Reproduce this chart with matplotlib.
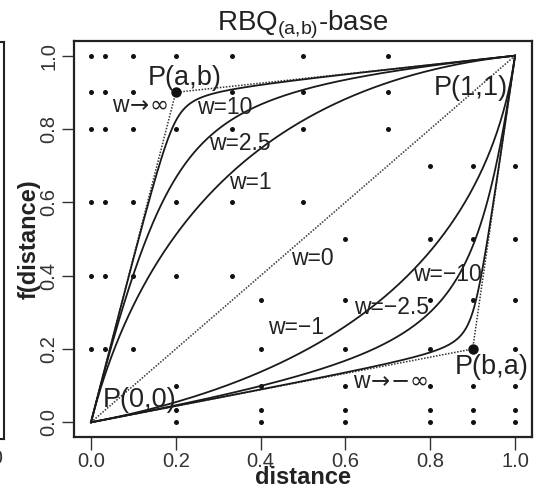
import numpy as np
import matplotlib
matplotlib.use('Agg')
import matplotlib.pyplot as plt

plt.rcParams['font.family'] = ['Liberation Sans', 'DejaVu Sans']
plt.rcParams['mathtext.fontset'] = 'dejavusans'

# control points of the rational quadratic Bezier
p0 = (0.0, 0.0)
p_ab = (0.2, 0.9)
p_ba = (0.9, 0.2)
p2 = (1.0, 1.0)
weights = [10, 2.5, 1, -1, -2.5, -10]

# background dot grid (a < b above the diagonal, mirrored below)
dot_a = [0.0, 1 / 30, 0.1, 0.2, 1 / 3, 0.5, 0.7]
dot_b = [0.2, 0.4, 0.6, 0.8, 0.9, 1.0]

w_labels = [
    ('w$\\!\\rightarrow\\!\\infty$', 0.116, 0.864),
    ('w=10', 0.315, 0.859),
    ('w=2.5', 0.352, 0.76),
    ('w=1', 0.377, 0.655),
    ('w=0', 0.522, 0.448),
    ('w=\u22121', 0.484, 0.258),
    ('w=\u22122.5', 0.708, 0.312),
    ('w=\u221210', 0.84, 0.402),
    ('w$\\!\\rightarrow\\!{-}\\infty$', 0.706, 0.11),
]
p_labels = [
    ('P(a,b)', 0.22, 0.94),
    ('P(1,1)', 0.895, 0.913),
    ('P(0,0)', 0.115, 0.062),
    ('P(b,a)', 0.946, 0.15),
]


def rbq(w, t):
    # negative weights use the mirrored control point
    p1 = p_ab if w >= 0 else p_ba
    w = abs(w)
    b0 = (1 - t) ** 2
    b1 = 2 * w * t * (1 - t)
    b2 = t ** 2
    den = b0 + b1 + b2
    x = (b0 * p0[0] + b1 * p1[0] + b2 * p2[0]) / den
    y = (b0 * p0[1] + b1 * p1[1] + b2 * p2[1]) / den
    return x, y


fig = plt.figure(figsize=(5.41, 4.88), dpi=100)

# cut-off neighbour panel on the left
ax0 = fig.add_axes([-0.5, 1 - 439 / 488, 0.5 + 4 / 541, (439 - 42) / 488])
ax0.set_xticks([])
ax0.set_yticks([])
for s in ax0.spines.values():
    s.set_linewidth(1.5)
    s.set_color('#222222')
fig.text(3 / 541, 1 - 458 / 488, '1.0', ha='right', va='center', fontsize=14.5, color='#333333')

ax = fig.add_axes([74 / 541, 1 - 437 / 488, (532 - 74) / 541, (437 - 41) / 488])

ux, uy, lx, ly = [], [], [], []
for a in dot_a:
    for b in dot_b:
        if a < b:
            ux.append(a)
            uy.append(b)
            lx.append(b)
            ly.append(a)
ax.plot(ux, uy, 'o', color='#111111', ms=3.6, mew=0)
ax.plot(lx, ly, 'o', color='#111111', ms=3.6, mew=0)

# limiting polylines and w=0 chord
dot_style = dict(color='#333333', lw=1.1, ls=(0, (1, 1)))
ax.plot([p0[0], p_ab[0], p2[0]], [p0[1], p_ab[1], p2[1]], **dot_style)
ax.plot([p0[0], p_ba[0], p2[0]], [p0[1], p_ba[1], p2[1]], **dot_style)
ax.plot([p0[0], p2[0]], [p0[1], p2[1]], **dot_style)

t = np.linspace(0, 1, 400)
for w in weights:
    x, y = rbq(w, t)
    ax.plot(x, y, color='#1a1a1a', lw=1.3)

ax.plot([p_ab[0], p_ba[0]], [p_ab[1], p_ba[1]], 'o', color='#111111', ms=7.5, mew=0)

for txt, x, y in w_labels:
    ax.text(x, y, txt, ha='center', va='center', fontsize=16.5, color='#222222')
for txt, x, y in p_labels:
    ax.text(x, y, txt, ha='center', va='center', fontsize=19.5, color='#222222')

ax.set_xlim(-0.04, 1.04)
ax.set_ylim(-0.04, 1.04)
ticks = [0.0, 0.2, 0.4, 0.6, 0.8, 1.0]
ax.set_xticks(ticks)
ax.set_yticks(ticks)
ax.set_xticklabels(['%.1f' % v for v in ticks], fontsize=14.5, color='#333333')
ax.set_yticklabels(['%.1f' % v for v in ticks], fontsize=14.5, color='#333333',
                   rotation=90, va='center')
ax.tick_params(length=9, width=1.0, color='#333333')
ax.tick_params(axis='y', pad=2)
ax.tick_params(axis='x', pad=2)
for s in ax.spines.values():
    s.set_linewidth(1.6)
    s.set_color('#222222')

ax.set_xlabel('distance', fontsize=17, fontweight='bold', color='#222222', va='baseline')
ax.set_ylabel('f(distance)', fontsize=17, fontweight='bold', color='#222222')
ax.xaxis.set_label_coords(0.5, (437 - 484) / 396)
ax.yaxis.set_label_coords((41 - 74) / 458, 0.5)
ax.set_title('RBQ$_{\\mathregular{(a{,}b)}}$-base', fontsize=20, pad=6, color='#222222')

fig.savefig('out.png', dpi=100)
